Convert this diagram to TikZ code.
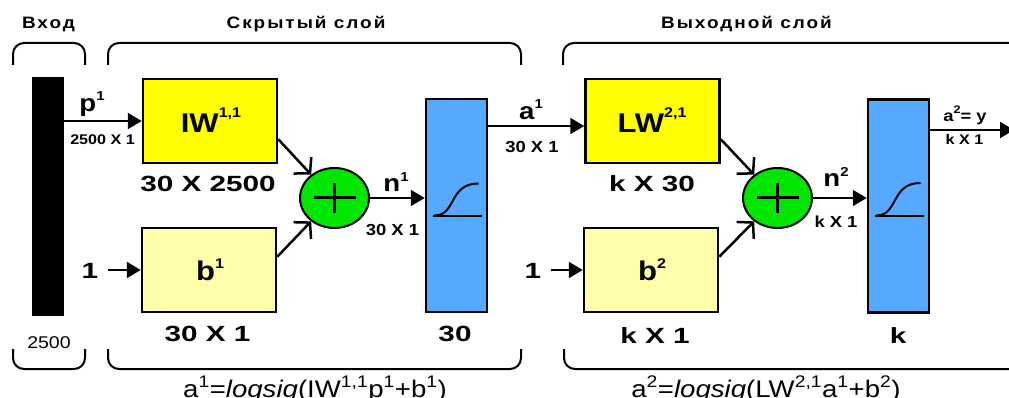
\documentclass[tikz,border=0pt]{standalone}
\usepackage{fontspec}
\setmainfont{Liberation Sans}[FakeStretch=1.15]
\usetikzlibrary{arrows.meta,shapes.geometric,calc}
\definecolor{wyel}{RGB}{255,255,0}
\definecolor{byel}{RGB}{255,255,170}
\definecolor{sgreen}{RGB}{0,230,0}
\definecolor{tfblue}{RGB}{85,170,255}
\newcommand\myfs[1]{\fontsize{#1}{#1}\selectfont}
\newcommand\sps[3]{\raisebox{#2pt}{\myfs{#1}#3}}
\begin{document}
\begin{tikzpicture}[x=1pt,y=-1pt,
  boxbase/.style={draw, line width=2.5pt, minimum width=134pt, minimum height=84pt, inner sep=0pt},
  wbox/.style={boxbase, fill=wyel},
  bbox/.style={boxbase, fill=byel},
  tfbox/.style={draw, line width=2.5pt, fill=tfblue, minimum width=61pt, minimum height=213pt, inner sep=0pt},
  sumnode/.style={ellipse, draw, line width=2pt, fill=sgreen, minimum width=69pt, minimum height=60pt, inner sep=0pt},
  lbl/.style={inner sep=0pt, anchor=base},
  hdr/.style={lbl, font=\bfseries\myfs{16.5}\addfontfeature{LetterSpace=12}},
  big/.style={lbl, font=\bfseries\myfs{22}\addfontfeature{FakeStretch=1.35}},
  boxt/.style={lbl, font=\bfseries\myfs{27}},
  sym/.style={lbl, font=\bfseries\myfs{24}},
  small/.style={lbl, font=\bfseries\myfs{14}},
  mid/.style={lbl, font=\bfseries\myfs{16}},
  fml/.style={lbl, font=\myfs{24}},
  arr/.style={line width=2pt, -{Triangle[length=14pt,width=16pt]}},
  darr/.style={line width=2.5pt, -{Straight Barb[length=11pt,width=24pt,line width=2.5pt]}},
  brk/.style={line width=2pt, rounded corners=11pt},
  sig/.style={line width=2pt},
  sigbase/.style={line width=1.2pt}
]
\clip (0,0) rectangle (1009,398);

% headers
\node[hdr] (thIn) at (48.5,28.5) {Вход};
\node[hdr] (thHid) at (306,28.5) {Скрытый слой};
\node[hdr] (thOut) at (746.5,28.5) {Выходной слой};

% top brackets
\draw[brk] (13,65) -- (13,43) -- (85,43) -- (85,65);
\draw[brk] (108,65) -- (108,43) -- (521,43) -- (521,65);
\draw[brk] (563,65) -- (563,43) -- (1030,43) -- (1030,65);
% bottom brackets
\draw[brk] (13,349) -- (13,369) -- (85,369) -- (85,349);
\draw[brk] (108,349) -- (108,369) -- (521,369) -- (521,349);
\draw[brk] (564,349) -- (564,369) -- (1030,369) -- (1030,349);

% input
\node[fill=black, minimum width=32pt, minimum height=239pt, inner sep=0pt] (bar) at (48,196.5) {};
\node[lbl, font=\myfs{17}] (inSize) at (49,348) {2500};

% hidden layer
\node[wbox] (IW) at (210,121) {};
\node[boxt] (IWt) at (211,133) {IW\sps{14}{15}{1,1}};
\node[big] (IWs) at (208,192) {30 X 2500};
\node[bbox] (b1) at (209,270) {};
\node[boxt] (b1t) at (210,280) {b\sps{14}{12}{1}};
\node[big] (b1s) at (207.5,341) {30 X 1};
\node[sumnode] (sum1) at (334.5,198) {};
\draw[line width=3pt] ($(sum1)+(-21,0)$) -- ($(sum1)+(21,0)$);
\draw[line width=3pt] ($(sum1)+(0,-15)$) -- ($(sum1)+(0,15)$);
\node[tfbox] (tf1) at (456.5,205.5) {};
\draw[sigbase] ($(tf1)+(-23.5,10.5)$) -- ($(tf1)+(25.5,10.5)$);
\draw[sig] ($(tf1)+(-22,10)$) .. controls ($(tf1)+(0,10)$) and ($(tf1)+(-8,-22)$) .. ($(tf1)+(22,-22)$);
\node[big] (tf1s) at (455,341) {30};

\node[sym] (p1) at (92,112) {p\sps{13}{11}{1}};
\node[small] (p1s) at (102.5,145) {2500 X 1};
\draw[arr] (bar.east |- IW.west) -- (IW.west);
\node[big] (one1) at (90,278) {1};
\draw[arr, shorten <=10pt] (one1.east |- b1.west) -- (b1.west);
\draw[darr] ($(IW.south east)+(0,-25)$) -- (sum1.135);
\draw[darr] ($(b1.north east)+(0,30)$) -- (sum1.225);
\node[sym] (n1) at (396,192) {n\sps{13}{10}{1}};
\node[mid] (n1s) at (392.5,235) {30 X 1};
\draw[arr] (sum1.east) -- (sum1.east -| tf1.west);

% output layer
\node[wbox] (LW) at (652.5,121) {};
\node[boxt] (LWt) at (652,133) {LW\sps{14}{15}{2,1}};
\node[big] (LWs) at (652,192) {k X 30};
\node[bbox] (b2) at (651,270) {};
\node[boxt] (b2t) at (652,280) {b\sps{14}{12}{2}};
\node[big] (b2s) at (655,343) {k X 1};
\node[sumnode] (sum2) at (777.5,198) {};
\draw[line width=3pt] ($(sum2)+(-21,0)$) -- ($(sum2)+(21,0)$);
\draw[line width=3pt] ($(sum2)+(0,-15)$) -- ($(sum2)+(0,15)$);
\node[tfbox] (tf2) at (898.5,206) {};
\draw[sigbase] ($(tf2)+(-23.5,10)$) -- ($(tf2)+(25.5,10)$);
\draw[sig] ($(tf2)+(-22,9.5)$) .. controls ($(tf2)+(0,9.5)$) and ($(tf2)+(-8,-23)$) .. ($(tf2)+(22,-23)$);
\node[big] (tf2s) at (898,343) {k};

\coordinate (lwin) at ([yshift=-5pt]LW.west);
\node[sym] (a1) at (531,120) {a\sps{13}{11}{1}};
\node[mid] (a1s) at (532,153) {30 X 1};
\draw[arr] (tf1.east |- lwin) -- (lwin);
\node[big] (one2) at (533,278) {1};
\draw[arr, shorten <=10pt] (one2.east |- b2.west) -- (b2.west);
\draw[darr] ($(LW.south east)+(0,-25)$) -- (sum2.135);
\draw[darr] ($(b2.north east)+(0,30)$) -- (sum2.225);
\node[sym] (n2) at (836,187) {n\sps{13}{10}{2}};
\node[mid] (n2s) at (836,228) {k X 1};
\draw[arr] (sum2.east) -- (sum2.east -| tf2.west);

\coordinate (out) at (1014,130);
\node[mid] (a2) at (965,122) {a\sps{11}{8}{2}= y};
\node[small] (a2s) at (964.5,145) {k X 1};
\draw[arr] (tf2.east |- out) -- (out);

% formulas
\node[fml] (f1) at (315,397) {a\textsuperscript{1}=\textit{logsig}(IW\textsuperscript{1,1}p\textsuperscript{1}+b\textsuperscript{1})};
\node[fml] (f2) at (766,397) {a\textsuperscript{2}=\textit{logsig}(LW\textsuperscript{2,1}a\textsuperscript{1}+b\textsuperscript{2})};
\end{tikzpicture}
\end{document}
